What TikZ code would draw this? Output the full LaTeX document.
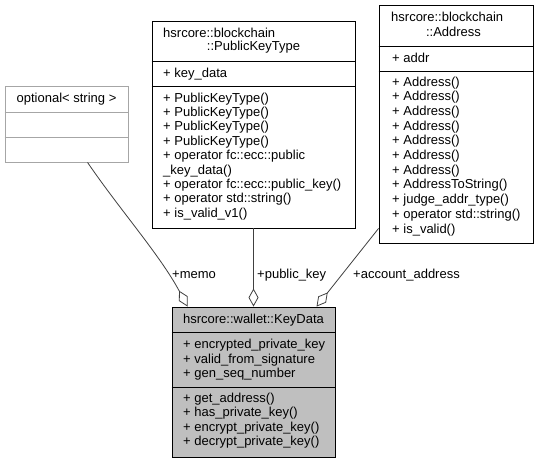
\documentclass[tikz,border=0pt]{standalone}
\usepackage{fontspec}
\setmainfont{Liberation Sans}
\usetikzlibrary{arrows.meta,calc}
\begin{document}
\begin{tikzpicture}[x=1pt,y=-1pt,
  box/.style={draw=black, line width=0.9pt, fill=white, inner sep=0pt},
  gbox/.style={draw=black!35, line width=0.9pt, fill=white, inner sep=0pt},
  kbox/.style={draw=black, line width=0.9pt, fill=black!25, inner sep=0pt},
  mem/.style={anchor=base west, inner sep=0pt, font=\fontsize{13}{14.4}\selectfont},
  ttl/.style={anchor=base, inner sep=0pt, font=\fontsize{13}{14.4}\selectfont},
  conn/.style={draw=black!75, line width=0.8pt},
  agg/.style={conn, {Diamond[fill=white,length=18pt,width=10pt]}-}
]
\fill[white] (0,0) rectangle (535,463);
\useasboundingbox (0,0) rectangle (535,463);

% optional< string >
\node[gbox, minimum width=123pt, minimum height=76pt] (opt) at (66.5,124) {};
\draw[black!35, line width=0.9pt] (opt.west |- 0,112) -- (opt.east |- 0,112);
\draw[black!35, line width=0.9pt] (opt.west |- 0,137) -- (opt.east |- 0,137);
\node[ttl] (optT) at (66.5,102) {optional< string >};

% PublicKeyType
\node[box, minimum width=203pt, minimum height=207pt] (pkt) at (253.5,124.5) {};
\draw[line width=0.9pt] (pkt.west |- 0,61) -- (pkt.east |- 0,61);
\draw[line width=0.9pt] (pkt.west |- 0,86) -- (pkt.east |- 0,86);
\node[mem] (pktT1) at (163,37) {hsrcore::blockchain};
\node[ttl] (pktT2) at (253.5,50.5) {::PublicKeyType};
\node[mem] (pktA) at (163,77) {+ key\_data};
\foreach \t [count=\i from 0] in {+ PublicKeyType(),+ PublicKeyType(),+ PublicKeyType(),+ PublicKeyType(),+ operator fc::ecc::public,\_key\_data(),+ operator fc::ecc::public\_key(),+ operator std::string(),+ is\_valid\_v1()}
  \node[mem] (pktM\i) at (163,{102+\i*14.4}) {\t};

% Address
\node[box, minimum width=154.5pt, minimum height=238pt] (adr) at (456.25,124) {};
\draw[line width=0.9pt] (adr.west |- 0,46) -- (adr.east |- 0,46);
\draw[line width=0.9pt] (adr.west |- 0,71) -- (adr.east |- 0,71);
\node[mem] (adrT1) at (391,21) {hsrcore::blockchain};
\node[ttl] (adrT2) at (453.5,36) {::Address};
\node[mem] (adrA) at (392,62) {+ addr};
\foreach \t [count=\i from 0] in {+ Address(),+ Address(),+ Address(),+ Address(),+ Address(),+ Address(),+ Address(),+ AddressToString(),+ judge\_addr\_type(),+ operator std::string(),+ is\_valid()}
  \node[mem] (adrM\i) at (392,{86+\i*14.7}) {\t};

% KeyData
\node[kbox, minimum width=163pt, minimum height=150pt] (kd) at (253.5,382) {};
\draw[line width=0.9pt] (kd.west |- 0,332) -- (kd.east |- 0,332);
\draw[line width=0.9pt] (kd.west |- 0,387) -- (kd.east |- 0,387);
\node[ttl] (kdT) at (253.5,323.5) {hsrcore::wallet::KeyData};
\foreach \t [count=\i from 0] in {+ encrypted\_private\_key,+ valid\_from\_signature,+ gen\_seq\_number}
  \node[mem] (kdA\i) at (183,{348.5+\i*14.5}) {\t};
\foreach \t [count=\i from 0] in {+ get\_address(),+ has\_private\_key(),+ encrypt\_private\_key(),+ decrypt\_private\_key()}
  \node[mem] (kdM\i) at (183,{402.5+\i*14.4}) {\t};

% connectors
\coordinate (kdm) at ($(kd.north west)+(16,0)$);
\coordinate (kda) at ($(kd.north west)+(145,0)$);
\coordinate (opts) at ($(opt.south west)+(83,0)$);
\coordinate (adrw) at ($(adr.south west)+(0,-15)$);
\draw[agg] (kdm) .. controls (160,255) and (120,210) .. (opts);
\draw[agg] (kd.north) -- (pkt.south);
\draw[agg] (kda) -- (adrw);

\node[mem] (lmemo) at (172,278) {+memo};
\node[mem] (lpk) at (257,278) {+public\_key};
\node[mem] (lacc) at (353,278) {+account\_address};
\end{tikzpicture}
\end{document}
